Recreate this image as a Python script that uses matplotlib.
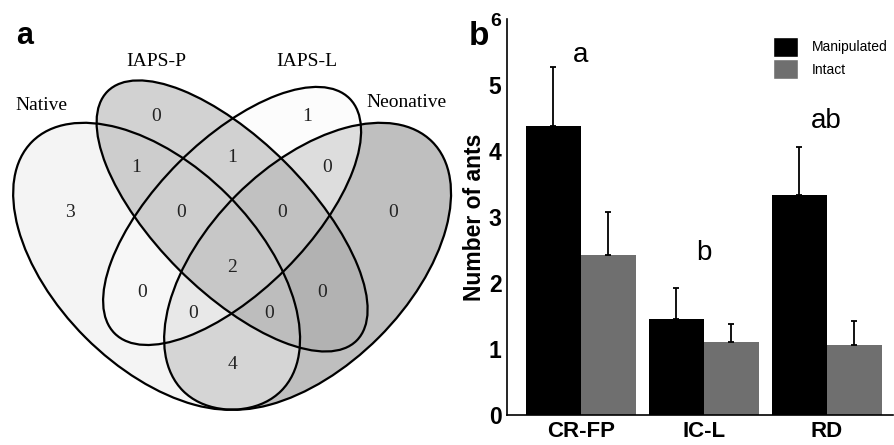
import matplotlib
matplotlib.use("Agg")
import matplotlib.pyplot as plt
from matplotlib.patches import Ellipse, Patch
import numpy as np

plt.rcParams['font.family'] = ['Liberation Sans', 'DejaVu Sans']

# ---- panel a: Venn counts ----
set_names = ["Native", "IAPS-P", "IAPS-L", "Neonative"]
region_names = ["N", "P", "L", "Neo", "N&P", "P&L", "L&Neo", "N&P&L", "P&L&Neo",
                "N&P&L&Neo", "N&L", "P&Neo", "N&L&Neo", "N&P&Neo", "N&Neo"]
region_counts = [3, 0, 1, 0, 1, 1, 0, 0, 0, 2, 0, 0, 0, 0, 4]

# ---- panel b: number of ants ----
sites = ["CR-FP", "IC-L", "RD"]
manipulated = [4.38, 1.46, 3.33]
manipulated_err = [0.89, 0.47, 0.73]
intact = [2.42, 1.11, 1.06]
intact_err = [0.66, 0.27, 0.37]
group_letters = ["a", "b", "ab"]

# layout of the 4-set venn (x, y, semi-major, semi-minor, angle)
ellipse_geom = [(0.35, 0.47, 0.35, 0.20, 135),
                (0.50, 0.57, 0.35, 0.15, 135),
                (0.50, 0.57, 0.33, 0.15, 45),
                (0.65, 0.47, 0.35, 0.20, 45)]
ellipse_fill = ["#ebebeb", "#a7a7a7", "#fbfbfb", "#818181"]
draw_order = [3, 0, 2, 1]
set_label_pos = [(0.122, 0.789), (0.349, 0.876), (0.649, 0.876), (0.846, 0.795)]
region_pos = [(0.178, 0.576), (0.349, 0.767), (0.649, 0.767), (0.820, 0.576),
              (0.309, 0.667), (0.500, 0.687), (0.689, 0.667), (0.399, 0.576),
              (0.599, 0.576), (0.500, 0.467), (0.321, 0.417), (0.679, 0.417),
              (0.422, 0.377), (0.574, 0.377), (0.500, 0.274)]

fig = plt.figure(figsize=(8.94, 4.45), dpi=100)

# venn
ax_a = fig.add_axes([0, 0, 447 / 894, 1])
ax_a.set_xlim(0.0388, 0.927)
ax_a.set_ylim(0.115, 0.999)
ax_a.axis('off')
for z, i in enumerate(draw_order):
    cx, cy, a, b, ang = ellipse_geom[i]
    ax_a.add_patch(Ellipse((cx, cy), 2 * a, 2 * b, angle=ang, facecolor=ellipse_fill[i],
                           alpha=0.5, edgecolor='none', zorder=1 + z, clip_on=False))
for cx, cy, a, b, ang in ellipse_geom:
    ax_a.add_patch(Ellipse((cx, cy), 2 * a, 2 * b, angle=ang, facecolor='none',
                           edgecolor='black', lw=1.6, zorder=10, clip_on=False))
for name, (px, py) in zip(set_names, set_label_pos):
    ax_a.text(px, py, name, ha='center', va='center', fontsize=14,
              family='Liberation Serif', zorder=11)
for n, (px, py) in zip(region_counts, region_pos):
    ax_a.text(px, py, str(n), ha='center', va='center', fontsize=14,
              family='Liberation Serif', color='#222222', zorder=11)

fig.text(16 / 894, 1 - 44 / 445, 'a', fontsize=22, fontweight='bold', va='baseline')

# bar chart
ax_b = fig.add_axes([507 / 894, 30 / 445, 386 / 894, 396 / 445])
x = np.arange(len(sites))
w = 0.447
ekw = dict(elinewidth=1.3, capthick=1.3, ecolor='black')
ax_b.bar(x - w / 2, manipulated, w, color='black',
         yerr=[np.zeros(len(sites)), manipulated_err], capsize=2.5, error_kw=ekw)
ax_b.bar(x + w / 2, intact, w, color='#6f6f6f',
         yerr=[np.zeros(len(sites)), intact_err], capsize=2.5, error_kw=ekw)

letter_y = [5.35, 2.35, 4.35]
for xi, lab, ly in zip(x, group_letters, letter_y):
    ax_b.text(xi, ly, lab, ha='center', va='baseline', fontsize=20)

ax_b.set_xlim(-0.6, 2.54)
ax_b.set_ylim(0, 6)
ax_b.set_yticks(range(7))
ax_b.set_xticks(x)
ax_b.tick_params(axis='y', length=0, pad=4, labelsize=16.5)
ax_b.tick_params(axis='x', length=0, pad=4, labelsize=16)
ax_b.set_xticklabels(sites, fontweight='bold')
ax_b.set_yticklabels([str(v) for v in range(7)], fontweight='bold')
ax_b.set_ylabel("Number of ants", fontsize=16.5, fontweight='bold', labelpad=2)
for s in ['top', 'right']:
    ax_b.spines[s].set_visible(False)
for s in ['left', 'bottom']:
    ax_b.spines[s].set_linewidth(1.2)

handles = [Patch(facecolor='black', edgecolor='white'), Patch(facecolor='#6f6f6f', edgecolor='white')]
ax_b.legend(handles, ["Manipulated", "Intact"], loc='upper left',
            bbox_to_anchor=(773 / 894, 1 - 37 / 445), bbox_transform=fig.transFigure,
            frameon=False, fontsize=10, handlelength=1.8, handleheight=1.8,
            handletextpad=1.0, labelspacing=0.2, borderpad=0, borderaxespad=0)

fig.text(469 / 894, 1 - 45 / 445, 'b', fontsize=24, fontweight='bold', va='baseline')

# the top tick label is set a bit smaller in the original
fig.canvas.draw()
ax_b.get_yticklabels()[-1].set_fontsize(14)

fig.savefig("out.png", dpi=100)
